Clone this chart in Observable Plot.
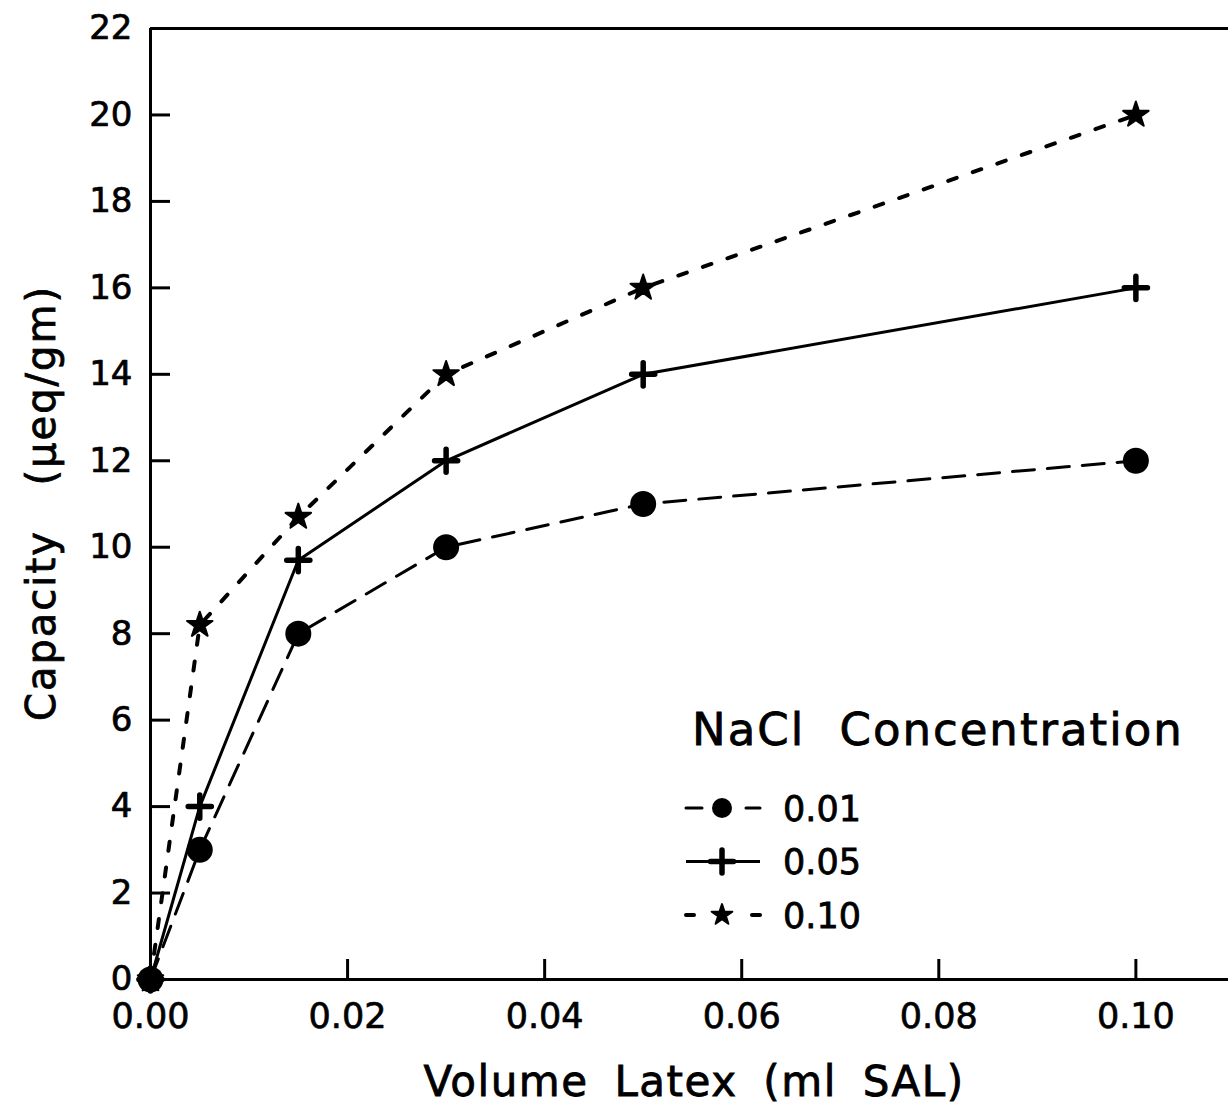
<!DOCTYPE html>
<html><head><meta charset="utf-8">
<script src="https://cdn.jsdelivr.net/npm/d3@7"></script>
<script src="https://cdn.jsdelivr.net/npm/@observablehq/plot@0.6"></script>
<style>
body{margin:0;background:#fff;font-family:"DejaVu Sans",sans-serif;}
#wrap{position:relative;width:1228px;height:1108px;overflow:hidden;background:#fff;}
#wrap svg{display:block;}
#overlay{position:absolute;left:0;top:0;pointer-events:none;}
</style></head><body><div id="wrap"></div>
<script>
// ---- data ----
const volumes = [0, 0.005, 0.015, 0.03, 0.05, 0.10];
const seriesNames = ["0.01", "0.05", "0.10"];
const capacity001 = [0, 3, 8, 10, 11, 12];
const capacity005 = [0, 4, 9.7, 12, 14, 16];
const capacity010 = [0, 8.2, 10.7, 14, 16, 20];
const xTicks = [0, 0.02, 0.04, 0.06, 0.08, 0.10];
const yTicks = [0, 2, 4, 6, 8, 10, 12, 14, 16, 18, 20, 22];
const xDomain = [0, 0.1094];
const yDomain = [0, 22];
const xTitle = "Volume Latex (ml SAL)";
const yTitle = "Capacity (\u03BCeq/gm)";
const legendTitle = "NaCl Concentration";

const rows = (vals, s) => volumes.map((v, i) => ({x: v, y: vals[i], s}));
const d001 = rows(capacity001, seriesNames[0]);
const d005 = rows(capacity005, seriesNames[1]);
const d010 = rows(capacity010, seriesNames[2]);

const FONT = "DejaVu Sans";
const chart = Plot.plot({
  width: 1228, height: 1108,
  marginTop: 28, marginLeft: 150, marginRight: 0, marginBottom: 129,
  style: {fontFamily: FONT, color: "#000", background: "#fff", overflow: "visible"},
  x: {domain: xDomain, axis: null},
  y: {domain: yDomain, axis: null},
  marks: [
    Plot.ruleX([xDomain[0]], {strokeWidth: 3}),
    Plot.ruleY([yDomain[0]], {strokeWidth: 3}),
    Plot.ruleY([yDomain[1]], {strokeWidth: 3}),
    Plot.axisX(xTicks, {anchor: "bottom", tickSize: -20, strokeWidth: 3, fill: "none", label: null}),
    Plot.axisX(xTicks, {anchor: "bottom", tickSize: 0, tickPadding: 24, fontSize: 35, textStroke: "#000", textStrokeWidth: 0.7, tickFormat: d => d.toFixed(2), label: null}),
    Plot.axisY(yTicks, {anchor: "left", tickSize: -20, strokeWidth: 3, fill: "none", label: null}),
    Plot.axisY(yTicks, {anchor: "left", tickSize: 0, tickPadding: 18, fontSize: 34, textStroke: "#000", textStrokeWidth: 0.7, tickFormat: d => String(d), label: null}),
    Plot.line(d001, {x: "x", y: "y", stroke: "#000", strokeWidth: 3, strokeDasharray: "22,13"}),
    Plot.line(d005, {x: "x", y: "y", stroke: "#000", strokeWidth: 3}),
    Plot.line(d010, {x: "x", y: "y", stroke: "#000", strokeWidth: 4, strokeDasharray: "9,17", strokeLinecap: "round"}),
    Plot.dot(d010, {x: "x", y: "y", symbol: "star", r: 8, fill: "#000", stroke: "#000", strokeWidth: 2, strokeLinejoin: "round"}),
    Plot.dot(d005, {x: "x", y: "y", symbol: "plus", r: 7.5, stroke: "#000", strokeWidth: 5.5, strokeLinecap: "round"}),
    Plot.dot(d001, {x: "x", y: "y", r: 13, fill: "#000"})
  ]
});
const wrap = document.getElementById("wrap");
wrap.appendChild(chart);

// ---- titles and legend overlay ----
const ov = d3.select(wrap).append("svg").attr("id", "overlay").attr("width", 1228).attr("height", 1108)
  .attr("font-family", FONT).attr("fill", "#000");
const heavy = sel => sel.attr("stroke", "#000").attr("stroke-width", 0.8);

heavy(ov.append("text").attr("x", 694).attr("y", 1096).attr("text-anchor", "middle")
  .attr("font-size", 42).attr("letter-spacing", 1.5).attr("word-spacing", 11).text(xTitle));
heavy(ov.append("text").attr("text-anchor", "middle")
  .attr("transform", "translate(55,503) rotate(-90)")
  .attr("font-size", 40).attr("letter-spacing", 2).attr("word-spacing", 30).text(yTitle));

const legendStyles = [
  {name: seriesNames[0], dash: "16,44", width: 3, symbol: d3.symbolCircle, size: Math.PI * 10 * 10, fill: "#000", stroke: "none", sw: 0},
  {name: seriesNames[1], dash: null, width: 3, symbol: d3.symbolPlus, size: Math.PI * 7.5 * 7.5, fill: "none", stroke: "#000", sw: 5.5},
  {name: seriesNames[2], dash: "8,58", width: 4, symbol: d3.symbolStar, size: Math.PI * 6.5 * 6.5, fill: "#000", stroke: "#000", sw: 2}
];
heavy(ov.append("text").attr("x", 692).attr("y", 745).attr("font-size", 45)
  .attr("letter-spacing", 2).attr("word-spacing", 18).text(legendTitle));
legendStyles.forEach((s, i) => {
  const cy = 808 + 53.5 * i;
  const g = ov.append("g");
  g.append("line").attr("x1", 686).attr("x2", 760).attr("y1", cy).attr("y2", cy)
    .attr("stroke", "#000").attr("stroke-width", s.width)
    .attr("stroke-dasharray", s.dash)
    .attr("stroke-linecap", s.dash ? "round" : "butt");
  g.append("path").attr("transform", `translate(722,${cy})`)
    .attr("d", d3.symbol(s.symbol, s.size)())
    .attr("fill", s.fill).attr("stroke", s.stroke).attr("stroke-width", s.sw)
    .attr("stroke-linecap", "round").attr("stroke-linejoin", "round");
  heavy(g.append("text").attr("x", 783).attr("y", cy).attr("dy", "0.36em").attr("font-size", 35).text(s.name));
});
</script>
</body></html>
